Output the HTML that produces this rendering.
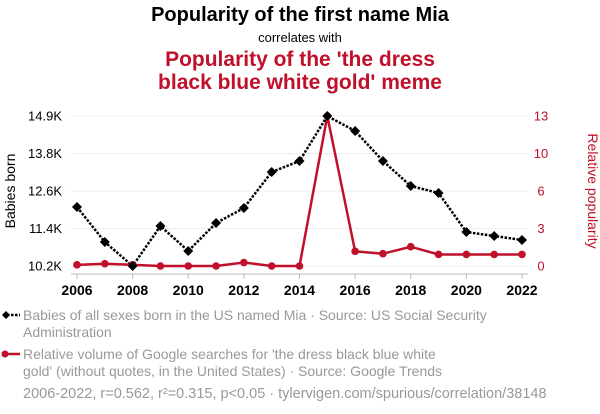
<!DOCTYPE html>
<html><head><meta charset="utf-8"><style>
html,body{margin:0;padding:0;background:#fff;}
svg{display:block;font-family:"Liberation Sans",sans-serif;}
</style></head><body>
<svg width="600" height="414" viewBox="0 0 600 414">
<text x="300" y="21" text-anchor="middle" font-size="20" font-weight="bold" fill="#000">Popularity of the first name Mia</text>
<text x="300" y="42" text-anchor="middle" font-size="13" fill="#000">correlates with</text>
<text x="300" y="66" text-anchor="middle" font-size="21" font-weight="bold" fill="#c0102a">Popularity of the 'the dress</text>
<text x="300" y="89" text-anchor="middle" font-size="21" font-weight="bold" fill="#c0102a">black blue white gold' meme</text>
<g id="grid"></g>
<line x1="71" y1="274" x2="528" y2="274" stroke="#bbb" stroke-width="1"/>
<g id="axes"></g>
<g id="series"></g>
<text transform="translate(15,191) rotate(-90)" text-anchor="middle" font-size="14" fill="#000">Babies born</text>
<text transform="translate(588,191) rotate(90)" text-anchor="middle" font-size="14" fill="#c0102a">Relative popularity</text>
<g>
<line x1="3" y1="315" x2="20" y2="315" stroke="#000" stroke-width="2.5" stroke-dasharray="2.5,1.5"/>
<path d="M2,315 L6,311 L10,315 L6,319 Z" fill="#000"/>
<text x="23" y="320" font-size="14" fill="#999">Babies of all sexes born in the US named Mia · Source: US Social Security</text>
<text x="23" y="337" font-size="14" fill="#999">Administration</text>
</g>
<g>
<line x1="3" y1="354" x2="20" y2="354" stroke="#c0102a" stroke-width="2.5"/>
<circle cx="5" cy="354" r="3.5" fill="#c0102a"/>
<text x="23" y="359" font-size="14" fill="#999">Relative volume of Google searches for 'the dress black blue white</text>
<text x="23" y="376" font-size="14" fill="#999">gold' (without quotes, in the United States) · Source: Google Trends</text>
</g>
<text x="23" y="398" font-size="14.5" fill="#999">2006-2022, r=0.562, r²=0.315, p&lt;0.05 · tylervigen.com/spurious/correlation/38148</text>
</svg>
<script>
const years=[2006,2007,2008,2009,2010,2011,2012,2013,2014,2015,2016,2017,2018,2019,2020,2021,2022];
const babies=[12049,10952,10200,11453,10670,11547,12017,13145,13490,14900,14430,13490,12707,12487,11265,11140,11015];
const meme=[0.1,0.2,0.1,0,0,0,0.3,0,0,13,1.27,1.07,1.67,1,1,1,1];
const leftTicks=[10200,11375,12550,13725,14900];
const leftTickLabels=["10.2K","11.4K","12.6K","13.8K","14.9K"];
const rightTicks=[0,3.25,6.5,9.75,13];
const rightTickLabels=["0","3","6","10","13"];
const xTicks=[2006,2008,2010,2012,2014,2016,2018,2020,2022];
const NS="http://www.w3.org/2000/svg";
const xS=y=>77+(y-2006)*(445/16);
const yL=v=>266-(v-10200)/4700*150;
const yR=v=>266-v/13*150;
function mk(t,a,p){const e=document.createElementNS(NS,t);for(const k in a)e.setAttribute(k,a[k]);p.appendChild(e);return e;}
const grid=document.getElementById('grid'),axes=document.getElementById('axes'),ser=document.getElementById('series');
leftTicks.forEach((v,i)=>{
 const g=mk('line',{x1:71,x2:528,y1:yL(v),y2:yL(v),stroke:'#eee','stroke-width':1},grid);
 
 
 const t=mk('text',{x:62,y:yL(v)+4.5,'text-anchor':'end','font-size':13,fill:'#000'},axes);
 t.textContent=leftTickLabels[i];
 
 
});
rightTicks.forEach((v,i)=>{
 const t=mk('text',{x:541,y:yR(v)+4.5,'text-anchor':'middle','font-size':13,fill:'#c0102a'},axes);
 t.textContent=rightTickLabels[i];
 
 
});
xTicks.forEach(y=>{
 const l=mk('line',{x1:xS(y),x2:xS(y),y1:274,y2:279,stroke:'#bbb'},axes);
 
 
 const t=mk('text',{x:xS(y),y:295,'text-anchor':'middle','font-size':14,'font-weight':'bold',fill:'#000'},axes);
 t.textContent=y;
 
 
});
const rl=mk('polyline',{points:years.map((y,i)=>xS(y)+','+yR(meme[i])).join(' '),fill:'none',stroke:'#c0102a','stroke-width':2.5},ser);


const bl=mk('polyline',{points:years.map((y,i)=>xS(y)+','+yL(babies[i])).join(' '),fill:'none',stroke:'#000','stroke-width':2.5,'stroke-dasharray':'2.5,1.5'},ser);


years.forEach((y,i)=>{
 const c=mk('circle',{cx:xS(y),cy:yR(meme[i]),r:3.8,fill:'#c0102a'},ser);
 
 
});
years.forEach((y,i)=>{
 const x=xS(y),v=yL(babies[i]);
 const d=mk('path',{d:`M${x-5},${v} L${x},${v-5} L${x+5},${v} L${x},${v+5} Z`,fill:'#000'},ser);
 
 
});
</script>
</body></html>
